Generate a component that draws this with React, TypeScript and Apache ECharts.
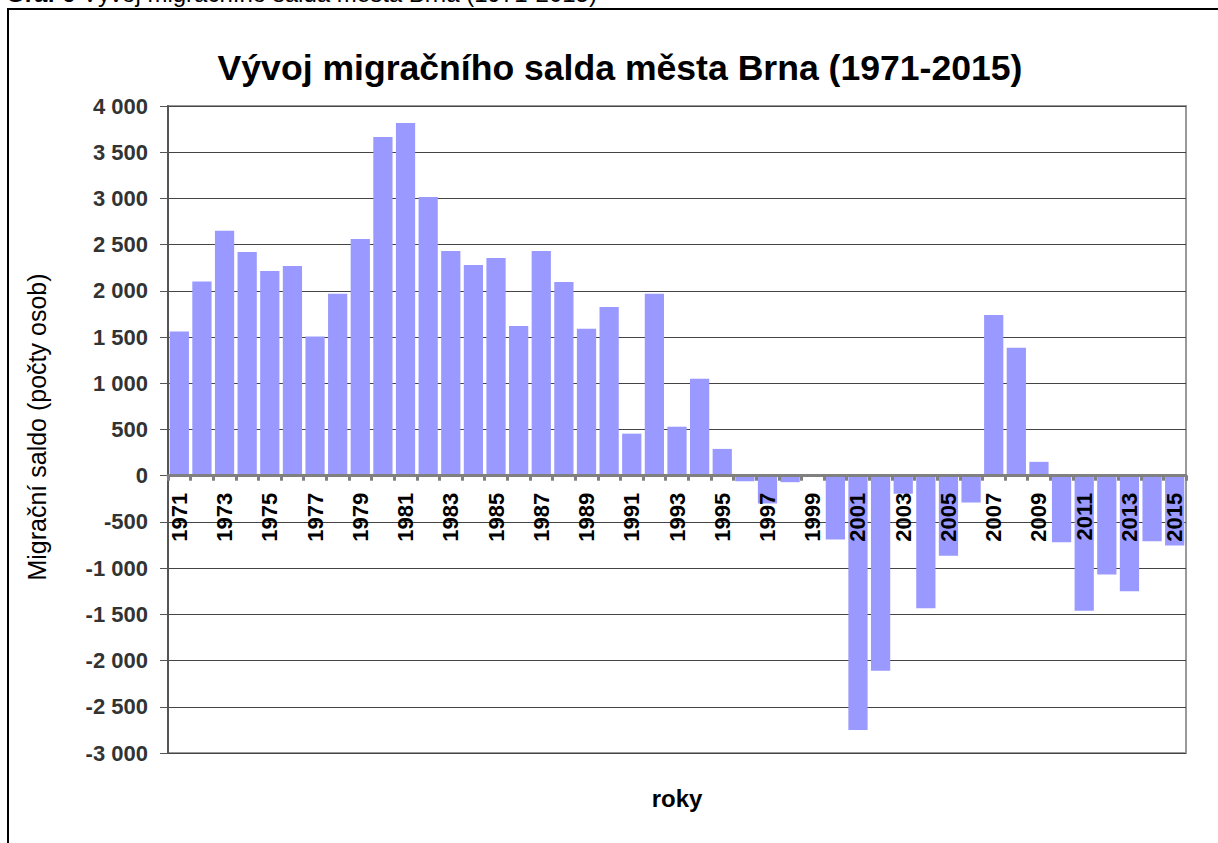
import React, { useEffect, useRef } from "react";
import * as echarts from "echarts";

const years = [
  "1971", "1972", "1973", "1974", "1975", "1976", "1977", "1978", "1979", "1980",
  "1981", "1982", "1983", "1984", "1985", "1986", "1987", "1988", "1989", "1990",
  "1991", "1992", "1993", "1994", "1995", "1996", "1997", "1998", "1999", "2000",
  "2001", "2002", "2003", "2004", "2005", "2006", "2007", "2008", "2009", "2010",
  "2011", "2012", "2013", "2014", "2015",
];

const saldo = [
  1560, 2100, 2650, 2420, 2215, 2270, 1505, 1970, 2560, 3665,
  3815, 3015, 2430, 2280, 2355, 1620, 2430, 2095, 1590, 1825,
  455, 1970, 530, 1050, 290, -60, -300, -70, -10, -690,
  -2750, -2110, -195, -1435, -865, -290, 1740, 1385, 150, -720,
  -1460, -1070, -1250, -710, -755,
];

const yMin = -3000;
const yMax = 4000;
const yStep = 500;

const titleText = "Vývoj migračního salda města Brna (1971-2015)";
const yAxisName = "Migrační saldo (počty osob)";
const xAxisName = "roky";
const headerBold = "Graf 6";
const headerRest = " Vývoj migračního salda města Brna (1971-2015)";

const FONT = "'Liberation Sans', Arial, Helvetica, sans-serif";

function fmt(v: number): string {
  const sign = v < 0 ? "-" : "";
  const a = Math.abs(v);
  if (a >= 1000) {
    const th = Math.floor(a / 1000);
    const rest = String(a % 1000).padStart(3, "0");
    return `${sign}${th} ${rest}`;
  }
  return `${sign}${a}`;
}

export default function App() {
  const ref = useRef<HTMLDivElement>(null);
  useEffect(() => {
    if (!ref.current) return;
    const chart = echarts.init(ref.current, null, { renderer: "svg" });
    chart.setOption({
      animation: false,
      backgroundColor: "#ffffff",
      textStyle: { fontFamily: FONT },
      grid: {
        left: 168,
        right: 32,
        top: 106,
        bottom: 90,
        show: true,
        borderColor: "#9a9a9a",
        borderWidth: 2,
        backgroundColor: "transparent",
      },
      xAxis: {
        type: "category",
        data: years,
        z: 3,
        offset: 0,
        axisLine: { onZero: false, lineStyle: { color: "#808080", width: 3 } },
        axisTick: {
          show: true,
          interval: 0,
          alignWithLabel: false,
          length: 5,
          lineStyle: { color: "#808080", width: 3 },
        },
        axisLabel: {
          interval: 1,
          rotate: 90,
          margin: 17,
          color: "#000000",
          fontWeight: "bold",
          fontSize: 22,
          fontFamily: FONT,
          hideOverlap: false,
        },
        splitLine: { show: false },
      },
      yAxis: {
        type: "value",
        min: yMin,
        max: yMax,
        interval: yStep,
        axisLine: { show: true, lineStyle: { color: "#555555", width: 2 } },
        axisTick: { show: true, length: 8, lineStyle: { color: "#555555", width: 1 } },
        axisLabel: {
          margin: 20,
          color: "#333333",
          fontWeight: "bold",
          fontSize: 22,
          fontFamily: FONT,
          formatter: (v: number) => fmt(v),
        },
        splitLine: { show: true, lineStyle: { color: "#444444", width: 1 } },
      },
      series: [
        {
          type: "bar",
          data: saldo,
          barCategoryGap: "15%",
          itemStyle: { color: "#9999FF" },
          z: 2,
        },
      ],
      graphic: [
        {
          type: "rect",
          shape: { x: 8, y: 9, width: 1400, height: 1000 },
          style: { fill: "none", stroke: "#000000", lineWidth: 2 },
          silent: true,
          z: 100,
        },
        {
          type: "text",
          x: 6,
          y: 5,
          style: {
            text: `{b|${headerBold}}{n|${headerRest}}`,
            fontFamily: FONT,
            fontSize: 24,
            fill: "#000000",
            align: "left",
            verticalAlign: "bottom",
            rich: {
              b: { fontWeight: "bold", fontSize: 24, fontFamily: FONT, fill: "#000" },
              n: { fontWeight: "normal", fontSize: 24, fontFamily: FONT, fill: "#000" },
            },
          },
          silent: true,
          z: 100,
        },
        {
          type: "text",
          x: 620,
          y: 68,
          style: {
            text: titleText,
            fontFamily: FONT,
            fontSize: 35.6,
            fontWeight: "bold",
            fill: "#000000",
            align: "center",
            verticalAlign: "middle",
          },
          silent: true,
          z: 100,
        },
        {
          type: "text",
          x: 37,
          y: 427,
          rotation: Math.PI / 2,
          style: {
            text: yAxisName,
            fontFamily: FONT,
            fontSize: 25,
            fill: "#000000",
            align: "center",
            verticalAlign: "middle",
          },
          silent: true,
          z: 100,
        },
        {
          type: "text",
          x: 677,
          y: 798,
          style: {
            text: xAxisName,
            fontFamily: FONT,
            fontSize: 24,
            fontWeight: "bold",
            fill: "#000000",
            align: "center",
            verticalAlign: "middle",
          },
          silent: true,
          z: 100,
        },
      ],
    });
    // Move the category axis (line, ticks, labels) up onto the zero value line.
    const zeroY = chart.convertToPixel({ yAxisIndex: 0 }, 0) as number;
    const bottomY = chart.convertToPixel({ yAxisIndex: 0 }, yMin) as number;
    chart.setOption({ xAxis: { offset: -(bottomY - zeroY) } });
    return () => chart.dispose();
  }, []);
  return (
    <div
      ref={ref}
      style={{ position: "fixed", left: 0, top: 0, width: 1218, height: 843, background: "#fff" }}
    />
  );
}
